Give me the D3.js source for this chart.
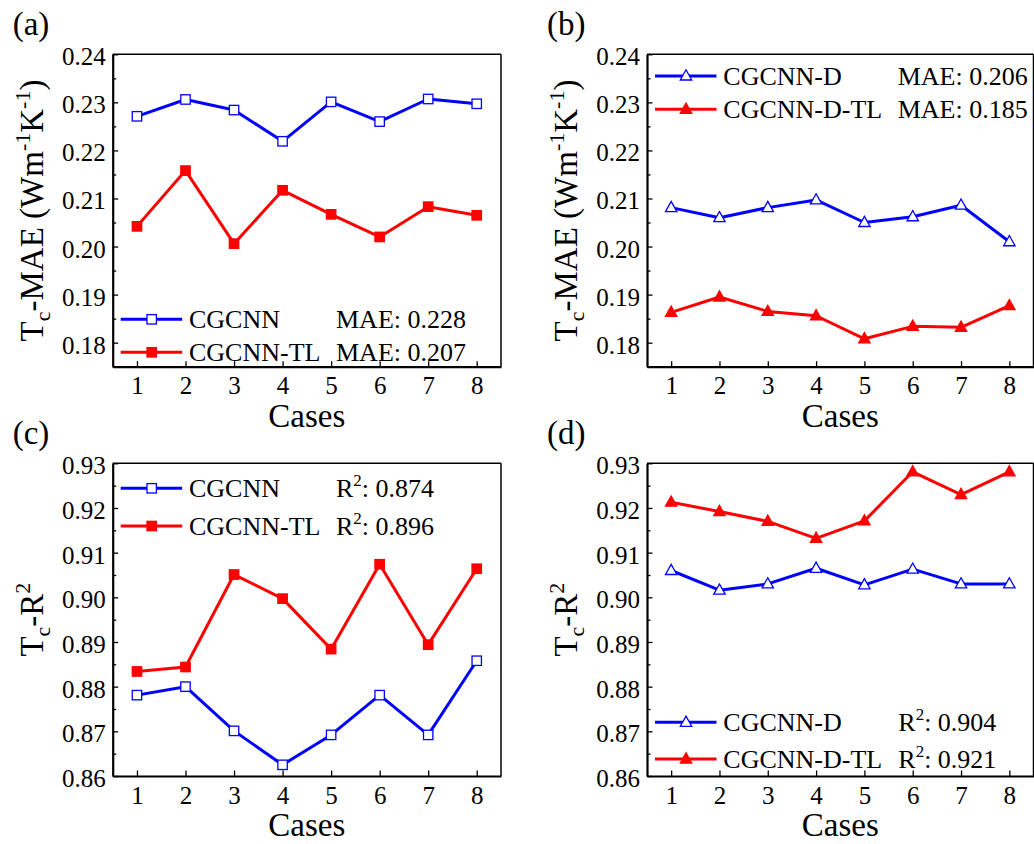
<!DOCTYPE html>
<html>
<head>
<meta charset="utf-8">
<script src="https://cdn.jsdelivr.net/npm/d3@7"></script>
<style>
  html, body { margin: 0; padding: 0; background: #fff; }
</style>
</head>
<body>
<div id="viz"></div>
<script>
// values
const cases = [1, 2, 3, 4, 5, 6, 7, 8];

const maeCGCNN    = [0.2271, 0.2306, 0.2284, 0.2219, 0.2301, 0.2260, 0.2307, 0.2297];
const maeCGCNNTL  = [0.2042, 0.2158, 0.2006, 0.2117, 0.2067, 0.2020, 0.2083, 0.2065];
const maeCGCNND   = [0.2081, 0.2060, 0.2081, 0.2097, 0.2050, 0.2062, 0.2086, 0.2010];
const maeCGCNNDTL = [0.1863, 0.1895, 0.1865, 0.1856, 0.1808, 0.1834, 0.1832, 0.1877];

const r2CGCNN    = [0.8781, 0.8800, 0.8701, 0.8625, 0.8692, 0.8781, 0.8692, 0.8858];
const r2CGCNNTL  = [0.8834, 0.8844, 0.9051, 0.8997, 0.8884, 0.9074, 0.8894, 0.9064];
const r2CGCNND   = [0.9060, 0.9016, 0.9030, 0.9065, 0.9028, 0.9063, 0.9030, 0.9030];
const r2CGCNNDTL = [0.9213, 0.9192, 0.9170, 0.9132, 0.9171, 0.9281, 0.9230, 0.9281];

const maeTicks = [0.18, 0.19, 0.20, 0.21, 0.22, 0.23, 0.24];
const r2Ticks  = [0.86, 0.87, 0.88, 0.89, 0.90, 0.91, 0.92, 0.93];

const BLUE = "#0000ff", RED = "#ff0000";
const FONT = "'Liberation Serif'";

const W = 1034, H = 844;
const svg = d3.select("#viz").append("svg").attr("width", W).attr("height", H)
  .style("display", "block");

// every text gets the serif face set directly on it
function txt(parent, size) {
  return parent.append("text").style("font-family", FONT).attr("font-size", size).attr("fill", "#000");
}

const panels = [
  { tag: "(a)", box: {x: 112.7, y: 54.3, w: 388.3, h: 312.4}, yDomain: [0.175, 0.24], ticks: maeTicks, metric: "mae",
    series: [
      {name: "CGCNN", values: maeCGCNN, color: BLUE, shape: "square", filled: false, score: "0.228"},
      {name: "CGCNN-TL", values: maeCGCNNTL, color: RED, shape: "square", filled: true, score: "0.207"}
    ],
    legend: {rows: [265, 298], col2: 223.3} },
  { tag: "(b)", box: {x: 647, y: 54.3, w: 386.5, h: 312.4}, yDomain: [0.175, 0.24], ticks: maeTicks, metric: "mae",
    series: [
      {name: "CGCNN-D", values: maeCGCNND, color: BLUE, shape: "triangle", filled: false, score: "0.206"},
      {name: "CGCNN-D-TL", values: maeCGCNNDTL, color: RED, shape: "triangle", filled: true, score: "0.185"}
    ],
    legend: {rows: [21.7, 55], col2: 250.7} },
  { tag: "(c)", box: {x: 112.7, y: 463.3, w: 388.3, h: 312.7}, yDomain: [0.86, 0.93], ticks: r2Ticks, metric: "r2",
    series: [
      {name: "CGCNN", values: r2CGCNN, color: BLUE, shape: "square", filled: false, score: "0.874"},
      {name: "CGCNN-TL", values: r2CGCNNTL, color: RED, shape: "square", filled: true, score: "0.896"}
    ],
    legend: {rows: [25, 62.7], col2: 223.3} },
  { tag: "(d)", box: {x: 647, y: 463.3, w: 386.5, h: 312.7}, yDomain: [0.86, 0.93], ticks: r2Ticks, metric: "r2",
    series: [
      {name: "CGCNN-D", values: r2CGCNND, color: BLUE, shape: "triangle", filled: false, score: "0.904"},
      {name: "CGCNN-D-TL", values: r2CGCNNDTL, color: RED, shape: "triangle", filled: true, score: "0.921"}
    ],
    legend: {rows: [259, 295.7], col2: 251.3} }
];

function marker(sel, shape, color, filled) {
  if (shape === "square") {
    sel.append("rect").attr("x", -4.7).attr("y", -4.7).attr("width", 9.4).attr("height", 9.4)
      .attr("fill", filled ? color : "#fff").attr("stroke", color).attr("stroke-width", 1.3);
  } else {
    sel.append("path").attr("d", "M0,-6.2 L5.7,4 L-5.7,4 Z")
      .attr("fill", filled ? color : "#fff").attr("stroke", color).attr("stroke-width", 1.3);
  }
}

panels.forEach(p => {
  const b = p.box;
  const x = d3.scaleLinear().domain([0.5, 8.5]).range([b.x, b.x + b.w]);
  const y = d3.scaleLinear().domain(p.yDomain).range([b.y + b.h, b.y]);

  // panel tag
  txt(svg, 33).attr("x", b.x - 100).attr("y", b.y - 19.5).text(p.tag);

  // series lines and markers
  p.series.forEach(s => {
    const pts = cases.map((c, i) => [x(c), y(s.values[i])]);
    svg.append("path").attr("d", d3.line()(pts))
      .attr("fill", "none").attr("stroke", s.color).attr("stroke-width", 3)
      .attr("stroke-linejoin", "round");
    pts.forEach(pt => {
      const g = svg.append("g").attr("transform", `translate(${pt[0]},${pt[1]})`);
      marker(g, s.shape, s.color, s.filled);
    });
  });

  // legend
  p.series.forEach((s, i) => {
    const ly = b.y + p.legend.rows[i];
    svg.append("line").attr("x1", b.x + 8).attr("x2", b.x + 69.5).attr("y1", ly).attr("y2", ly)
      .attr("stroke", s.color).attr("stroke-width", 3);
    const g = svg.append("g").attr("transform", `translate(${b.x + 39},${ly})`);
    marker(g, s.shape, s.color, s.filled);
    txt(svg, 26).attr("x", b.x + 76.3).attr("y", ly + 9).text(s.name);
    const t = txt(svg, 26).attr("x", b.x + p.legend.col2).attr("y", ly + 9);
    if (p.metric === "mae") {
      t.text("MAE: " + s.score);
    } else {
      t.append("tspan").text("R");
      t.append("tspan").attr("font-size", 17).attr("dy", -11).text("2");
      t.append("tspan").attr("dy", 11).text(": " + s.score);
    }
  });

  // frame (top and right)
  const frame = svg.append("g").attr("stroke", "#000").attr("fill", "none");
  frame.append("line").attr("x1", b.x).attr("x2", b.x + b.w).attr("y1", b.y).attr("y2", b.y).attr("stroke-width", 1.5);
  frame.append("line").attr("x1", b.x + b.w).attr("x2", b.x + b.w).attr("y1", b.y).attr("y2", b.y + b.h).attr("stroke-width", 1.5);

  // y axis with inward ticks
  const minor = d3.range(p.ticks.length - 1).map(i => (p.ticks[i] + p.ticks[i + 1]) / 2)
    .concat([p.ticks[0] - (p.ticks[1] - p.ticks[0]) / 2])
    .filter(v => v >= p.yDomain[0] - 1e-9);
  const yAxis = svg.append("g").attr("transform", `translate(${b.x},0)`)
    .call(d3.axisLeft(y).tickValues(p.ticks).tickFormat(d3.format(".2f")).tickSizeInner(-5.5).tickSizeOuter(0).tickPadding(7));
  yAxis.select(".domain").attr("stroke-width", 2.2);
  yAxis.selectAll(".tick line").attr("stroke-width", 1.3);
  yAxis.selectAll(".tick text").style("font-family", FONT).attr("font-size", 25).attr("fill", "#000").attr("dy", "0.42em");
  svg.append("g").attr("transform", `translate(${b.x},0)`)
    .call(d3.axisLeft(y).tickValues(minor).tickSizeInner(-3.5).tickSizeOuter(0).tickFormat(""))
    .call(g => g.select(".domain").remove())
    .selectAll(".tick line").attr("stroke-width", 1.3);

  // x axis
  const xAxis = svg.append("g").attr("transform", `translate(0,${b.y + b.h})`)
    .call(d3.axisBottom(x).tickValues(cases).tickFormat(d3.format("d")).tickSizeInner(-5.5).tickSizeOuter(0).tickPadding(10));
  xAxis.select(".domain").attr("stroke-width", 2.2);
  xAxis.selectAll(".tick line").attr("stroke-width", 1.3);
  xAxis.selectAll(".tick text").style("font-family", FONT).attr("font-size", 25).attr("fill", "#000");

  // axis titles
  txt(svg, 33).attr("x", b.x + b.w / 2).attr("y", b.y + b.h + 60)
    .attr("text-anchor", "middle").text("Cases");

  const yl = txt(svg, 33)
    .attr("transform", `translate(${b.x - 70},${b.y + b.h / 2}) rotate(-90)`)
    .attr("text-anchor", "middle");
  yl.append("tspan").text("T");
  yl.append("tspan").attr("font-size", 22).attr("dy", 7).text("c");
  if (p.metric === "mae") {
    yl.append("tspan").attr("dy", -7).text("-MAE (Wm");
    yl.append("tspan").attr("font-size", 22).attr("dy", -13).text("-1");
    yl.append("tspan").attr("dy", 13).text("K");
    yl.append("tspan").attr("font-size", 22).attr("dy", -13).text("-1");
    yl.append("tspan").attr("dy", 13).text(")");
  } else {
    yl.append("tspan").attr("dy", -7).text("-R");
    yl.append("tspan").attr("font-size", 22).attr("dy", -13).text("2");
  }
});
</script>
</body>
</html>
